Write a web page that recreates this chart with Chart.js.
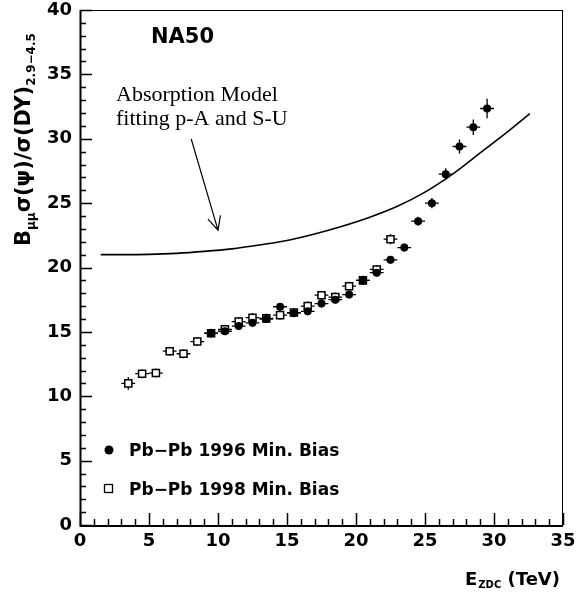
<!DOCTYPE html>
<html>
<head>
<meta charset="utf-8">
<script src="https://cdn.jsdelivr.net/npm/chart.js@4.4.1/dist/chart.umd.min.js"></script>
<style>
  html, body { margin: 0; padding: 0; background: #fff; }
  #wrap { width: 577px; height: 592px; }
</style>
</head>
<body>
<div id="wrap"><canvas id="na50" width="577" height="592"></canvas></div>
<script>
// Pb-Pb 1996 min. bias (filled circles)
const ezdc96 = [9.5, 10.5, 11.5, 12.5, 13.5, 14.5, 15.5, 16.5, 17.5, 18.5, 19.5, 20.5, 21.5, 22.5, 23.5, 24.5, 25.5, 26.5, 27.5, 28.5, 29.5];
const ratio96 = [14.9, 15.05, 15.45, 15.7, 16.0, 16.95, 16.45, 16.6, 17.2, 17.5, 17.9, 19.0, 19.6, 20.6, 21.55, 23.6, 25.0, 27.25, 29.4, 30.9, 32.35];
const err96 = [0.3, 0.3, 0.3, 0.3, 0.3, 0.3, 0.3, 0.3, 0.3, 0.3, 0.3, 0.3, 0.3, 0.3, 0.3, 0.35, 0.4, 0.45, 0.55, 0.6, 0.75];

// Pb-Pb 1998 min. bias (open squares)
const ezdc98 = [3.5, 4.5, 5.5, 6.5, 7.5, 8.5, 9.5, 10.5, 11.5, 12.5, 13.5, 14.5, 15.5, 16.5, 17.5, 18.5, 19.5, 20.5, 21.5, 22.5];
const ratio98 = [11.0, 11.75, 11.8, 13.5, 13.3, 14.25, 14.9, 15.2, 15.8, 16.1, 16.05, 16.3, 16.5, 17.0, 17.85, 17.7, 18.55, 19.0, 19.85, 22.2];
const err98 = [0.5, 0.35, 0.35, 0.35, 0.35, 0.35, 0.35, 0.35, 0.35, 0.35, 0.35, 0.35, 0.35, 0.35, 0.35, 0.35, 0.35, 0.35, 0.35, 0.4];
const xHalfWidth = 0.5;

// absorption model curve
const modelE = [1.5, 3, 5, 7, 9, 11, 13, 15, 17, 19, 21, 23, 25, 27, 29, 31, 32.6];
const modelRatio = [21.0, 21.0, 21.02, 21.1, 21.25, 21.45, 21.75, 22.1, 22.6, 23.2, 23.9, 24.75, 25.85, 27.25, 28.9, 30.55, 31.95];

// arrow from the text to the curve
const arrowFrom = [8.06, 29.98];
const arrowTo = [10.0, 22.9];

const toPoints = (xs, ys) => xs.map((x, i) => ({ x: x, y: ys[i] }));

const sans = "'DejaVu Sans', Arial, sans-serif";
const tickFont = { family: sans, size: 18, weight: "bold", lineHeight: 1 };

// frame, inside ticks, error bars, texts
const rootStyle = {
  id: "rootStyle",
  beforeDatasetsDraw(chart) {
    const ctx = chart.ctx;
    const xs = chart.scales.x;
    const ys = chart.scales.y;
    ctx.save();
    ctx.strokeStyle = "#000";
    ctx.lineWidth = 1.3;
    const bars = (ex, ey, err) => {
      ex.forEach((x, i) => {
        const px = xs.getPixelForValue(x);
        const py = ys.getPixelForValue(ey[i]);
        ctx.beginPath();
        ctx.moveTo(xs.getPixelForValue(x - xHalfWidth), py);
        ctx.lineTo(xs.getPixelForValue(x + xHalfWidth), py);
        ctx.moveTo(px, ys.getPixelForValue(ey[i] - err[i]));
        ctx.lineTo(px, ys.getPixelForValue(ey[i] + err[i]));
        ctx.stroke();
      });
    };
    bars(ezdc98, ratio98, err98);
    bars(ezdc96, ratio96, err96);
    ctx.restore();
  },
  afterDraw(chart) {
    const ctx = chart.ctx;
    const a = chart.chartArea;
    const xs = chart.scales.x;
    const ys = chart.scales.y;
    ctx.save();
    ctx.strokeStyle = "#000";
    ctx.lineWidth = 1;
    ctx.strokeRect(a.left + 0.5, a.top + 0.5, a.right - a.left - 1, a.bottom - a.top);

    // ticks inside the frame
    ctx.lineWidth = 1.5;
    ctx.beginPath();
    for (let v = 0; v <= 40; v++) {
      const py = Math.round(ys.getPixelForValue(v)) + 0.5;
      const len = v % 5 === 0 ? 12 : 6;
      ctx.moveTo(a.left, py);
      ctx.lineTo(a.left + len, py);
    }
    for (let v = 0; v <= 35; v++) {
      const px = Math.round(xs.getPixelForValue(v)) + 0.5;
      const len = v % 5 === 0 ? 12 : 6;
      ctx.moveTo(px, a.bottom);
      ctx.lineTo(px, a.bottom - len);
    }
    ctx.stroke();
    ctx.lineWidth = 2;
    ctx.beginPath();
    ctx.moveTo(a.left + 0.5, a.top);
    ctx.lineTo(a.left + 0.5, a.bottom + 1);
    ctx.lineTo(a.right, a.bottom + 1);
    ctx.stroke();

    ctx.fillStyle = "#000";
    ctx.textBaseline = "alphabetic";

    // NA50
    ctx.font = "bold 21px " + sans;
    ctx.fillText("NA50", 151, 43);

    // annotation
    ctx.font = "22px 'Liberation Serif', 'Times New Roman', serif";
    ctx.fillText("Absorption Model", 116, 101);
    ctx.fillText("fitting p-A and S-U", 116, 125);

    // arrow
    const tx = xs.getPixelForValue(arrowTo[0]);
    const ty = ys.getPixelForValue(arrowTo[1]);
    const fx = xs.getPixelForValue(arrowFrom[0]);
    const fy = ys.getPixelForValue(arrowFrom[1]);
    const ang = Math.atan2(ty - fy, tx - fx);
    ctx.lineWidth = 1.2;
    ctx.beginPath();
    ctx.moveTo(fx, fy);
    ctx.lineTo(tx, ty);
    ctx.moveTo(tx - 15 * Math.cos(ang - 0.45), ty - 15 * Math.sin(ang - 0.45));
    ctx.lineTo(tx, ty);
    ctx.lineTo(tx - 15 * Math.cos(ang + 0.45), ty - 15 * Math.sin(ang + 0.45));
    ctx.stroke();

    // legend
    ctx.font = "bold 17px " + sans;
    ctx.beginPath();
    ctx.arc(109, 450, 4.5, 0, Math.PI * 2);
    ctx.fill();
    ctx.fillText("Pb\u2212Pb 1996 Min. Bias", 129, 456);
    ctx.lineWidth = 1.3;
    ctx.strokeRect(104.5, 484.5, 8, 8);
    ctx.fillText("Pb\u2212Pb 1998 Min. Bias", 129, 495);

    // x title
    const big = "bold 18px " + sans;
    const small = "bold 10px " + sans;
    ctx.textAlign = "right";
    ctx.font = big;
    ctx.fillText("(TeV)", 560, 585);
    let w = ctx.measureText(" (TeV)").width;
    ctx.font = small;
    ctx.fillText("ZDC", 560 - w, 588);
    w += ctx.measureText("ZDC").width + 1;
    ctx.font = big;
    ctx.fillText("E", 560 - w, 585);

    // y title, rotated
    const ybig = "bold 21px " + sans;
    const ysmall = "bold 12px " + sans;
    ctx.textAlign = "left";
    ctx.translate(30, 246);
    ctx.rotate(-Math.PI / 2);
    let cx = 0;
    const part = (txt, font, dy) => {
      ctx.font = font;
      ctx.fillText(txt, cx, dy);
      cx += ctx.measureText(txt).width;
    };
    part("B", ybig, 0);
    part("\u03bc\u03bc", ysmall, 5);
    part("\u03c3(\u03c8)/\u03c3(DY)", ybig, 0);
    part("2.9\u22124.5", ysmall, 5);
    ctx.restore();
  },
};

const ctx = document.getElementById("na50").getContext("2d");
new Chart(ctx, {
  type: "scatter",
  data: {
    datasets: [
      {
        label: "Absorption Model",
        data: toPoints(modelE, modelRatio),
        showLine: true,
        borderColor: "#000",
        borderWidth: 1.6,
        pointRadius: 0,
        cubicInterpolationMode: "monotone",
        order: 3,
      },
      {
        label: "Pb-Pb 1998 Min. Bias",
        data: toPoints(ezdc98, ratio98),
        pointStyle: "rect",
        pointRadius: 5,
        backgroundColor: "#fff",
        borderColor: "#000",
        borderWidth: 1.5,
        order: 2,
      },
      {
        label: "Pb-Pb 1996 Min. Bias",
        data: toPoints(ezdc96, ratio96),
        pointStyle: "circle",
        pointRadius: 4,
        backgroundColor: "#000",
        borderColor: "#000",
        borderWidth: 0,
        order: 1,
      },
    ],
  },
  options: {
    responsive: false,
    animation: false,
    layout: { padding: { top: 10, right: 14, left: 0, bottom: 0 } },
    plugins: { legend: { display: false }, tooltip: { enabled: false } },
    scales: {
      x: {
        type: "linear",
        min: 0,
        max: 35,
        grid: { display: false, drawTicks: false },
        border: { display: false },
        ticks: { stepSize: 5, font: tickFont, color: "#000", padding: 7, maxRotation: 0 },
        afterFit: (scale) => {
          scale.height = 67;
          scale.paddingLeft = 0;
          scale.paddingRight = 0;
        },
      },
      y: {
        type: "linear",
        min: 0,
        max: 40,
        grid: { display: false, drawTicks: false },
        border: { display: false },
        ticks: { stepSize: 5, font: tickFont, color: "#000", padding: 8 },
        afterFit: (scale) => {
          scale.width = 80;
          scale.paddingTop = 0;
          scale.paddingBottom = 0;
        },
      },
    },
  },
  plugins: [rootStyle],
});
</script>
</body>
</html>
